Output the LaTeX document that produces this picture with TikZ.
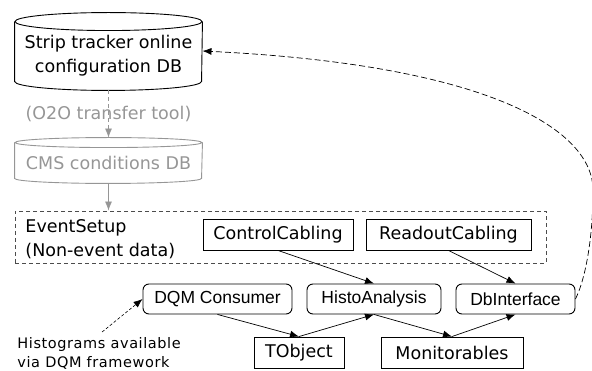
\documentclass[tikz,border=0pt]{standalone}
\usepackage{fontspec}
\setmainfont{DejaVu Sans}
\newfontfamily\arialfont{Liberation Sans}
\usetikzlibrary{arrows.meta}
\definecolor{lightgrey}{RGB}{150,150,150}
\tikzset{
  sqbox/.style={draw, minimum height=31, inner sep=0pt},
  rbox/.style={draw, rounded corners=6, minimum height=30, inner sep=0pt, font=\fontsize{17.5}{24}\selectfont\arialfont},
  arr/.style={-{Latex[length=9,width=7]}, line width=0.7pt},
}
\begin{document}
\begin{tikzpicture}[x=1pt, y=-1pt, line width=0.9pt, font=\fontsize{17.5}{24}\selectfont]
\useasboundingbox (0,0) rectangle (592,371);

\node[minimum width=187, minimum height=68, inner sep=0pt, align=center] (otdb) at (108.5,56) {Strip tracker online\\configuration DB};
\draw (otdb.north west) -- ([yshift=9]otdb.south west) arc[start angle=180, end angle=0, x radius=93.5, y radius=9] -- (otdb.north east);
\draw (otdb.north) ellipse[x radius=93.5, y radius=9];

\node[minimum width=187, minimum height=40, inner sep=0pt, text=lightgrey] (cond) at (108.5,163) {CMS conditions DB};
\draw[lightgrey] (cond.north west) -- ([yshift=5]cond.south west) arc[start angle=180, end angle=0, x radius=93.5, y radius=5] -- (cond.north east);
\draw[lightgrey] (cond.north) ellipse[x radius=93.5, y radius=5];

\draw[arr, lightgrey, dash pattern=on 4pt off 3pt] (otdb.south) -- ([yshift=5]cond.north) node[midway, text=lightgrey] {(O2O transfer tool)};

\node[draw, dash pattern=on 4pt off 3pt, black!70, minimum width=531, minimum height=52, inner sep=0pt] (esbox) at (280.5,237) {};
\node[anchor=west, align=left, inner sep=0pt] (esname) at (25,239) {EventSetup\\(Non-event data)};
\draw[arr, lightgrey] (cond.south) -- (esbox.north -| cond.south);

\node[sqbox, minimum width=150] (cc) at (278,234.5) {ControlCabling};
\node[sqbox, minimum width=165] (rc) at (448.5,234.5) {ReadoutCabling};

\node[rbox, minimum width=149] (dqm) at (217.5,299) {DQM Consumer};
\node[rbox, minimum width=134] (ha) at (374,299) {HistoAnalysis};
\node[rbox, minimum width=119] (dbi) at (515.5,299) {DbInterface};

\node[sqbox, minimum width=90] (tobj) at (299,352.5) {TObject};
\node[sqbox, minimum width=142] (mon) at (452,352.5) {Monitorables};

\node[anchor=north west, align=left, inner sep=0pt, font=\fontsize{14.5}{19}\selectfont\addfontfeature{LetterSpace=4}] (hist) at (17,337) {Histograms available\\via DQM framework};

\draw[arr] (cc.south) -- (ha.north);
\draw[arr] (rc.south) -- (dbi.north);
\draw[arr] (dqm.south) -- (tobj.north);
\draw[arr] (tobj.north) -- (ha.south);
\draw[arr] (ha.south) -- (mon.north);
\draw[arr] (mon.north) -- (dbi.south);
\draw[arr, dash pattern=on 3pt off 2pt, line width=0.6pt] ([xshift=3,yshift=5]hist.north) -- (dqm.west);

\draw[arr, dash pattern=on 6pt off 3pt, line width=0.7pt] (dbi.east) .. controls (585,280) and (593,240) .. (593,190)
  .. controls (593,130) and (490,65) .. ([yshift=5]otdb.east);

\end{tikzpicture}
\end{document}
